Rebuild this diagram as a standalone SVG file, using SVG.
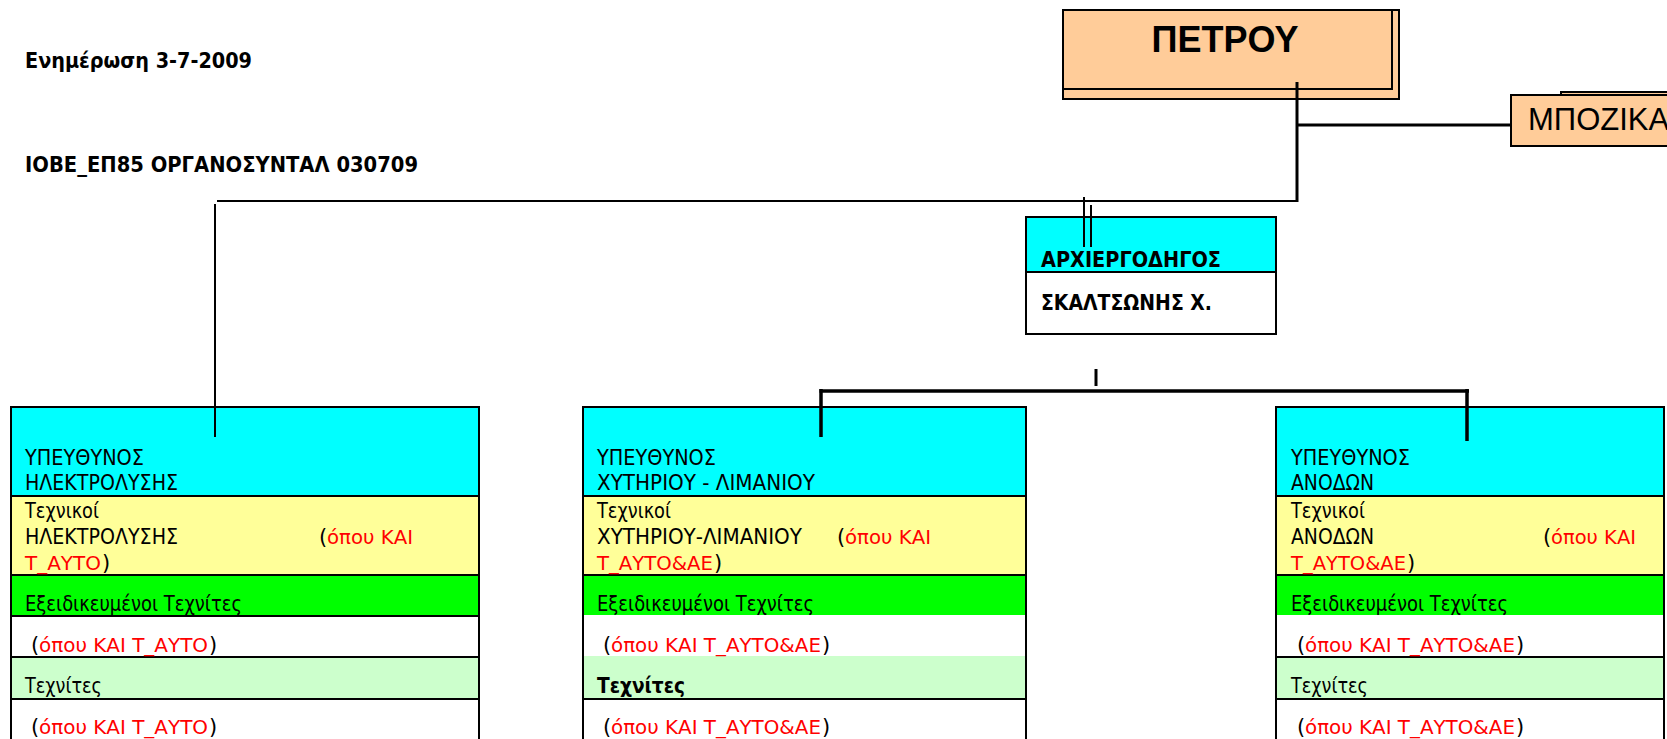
<svg xmlns="http://www.w3.org/2000/svg" width="1667" height="739" viewBox="0 0 1667 739">
<style>
.t{font-family:"DejaVu Sans","Liberation Sans",sans-serif;font-size:21px;fill:#000}
.b{font-weight:bold}
.r{fill:#FF0000;font-size:19.7px}
.a{font-family:"Liberation Sans",Arial,sans-serif;fill:#000}
.o{fill:none;stroke:#000;stroke-width:2}
.d{stroke:#000;stroke-width:2}
.cy{fill:#00FFFF}.ye{fill:#FFFF99}.gr{fill:#00FF00}.lg{fill:#CCFFCC}.wh{fill:#FFFFFF}
.pe{fill:#FFCC99;stroke:#000;stroke-width:2}
</style>
<rect width="1667" height="739" fill="#fff"/>

<g id="header">
<text class="t b" x="25" y="68" textLength="227" lengthAdjust="spacingAndGlyphs">Ενημέρωση 3-7-2009</text>
<text class="t b" x="25" y="172" textLength="393" lengthAdjust="spacingAndGlyphs">ΙΟΒΕ_ΕΠ85 ΟΡΓΑΝΟΣΥΝΤΑΛ 030709</text>
</g>

<g id="petrou">
<rect class="pe" x="1063" y="10" width="336" height="89"/>
<rect class="pe" x="1063" y="10" width="329" height="79"/>
<text class="a" x="1225" y="52" font-size="36" font-weight="bold" text-anchor="middle">ΠΕΤΡΟΥ</text>
</g>

<g id="mpozika">
<rect class="pe" x="1561" y="92" width="120" height="50"/>
<rect class="pe" x="1511" y="95" width="170" height="51"/>
<text class="a" x="1528" y="130" font-size="31">ΜΠΟΖΙΚΑ</text>
</g>

<g id="archiergodigos">
<rect class="cy" x="1026" y="217" width="250" height="55"/>
<rect class="wh" x="1026" y="272" width="250" height="62"/>
<line class="d" x1="1026" y1="272" x2="1276" y2="272"/>
<rect class="o" x="1026" y="217" width="250" height="117"/>
<text class="t b" x="1041" y="267" textLength="180" lengthAdjust="spacingAndGlyphs">ΑΡΧΙΕΡΓΟΔΗΓΟΣ</text>
<text class="t b" x="1041" y="310" textLength="171" lengthAdjust="spacingAndGlyphs">ΣΚΑΛΤΣΩΝΗΣ Χ.</text>
</g>

<g id="ilektrolysi">
<rect class="cy" x="11" y="407" width="468" height="89"/>
<rect class="ye" x="11" y="496" width="468" height="79"/>
<rect class="gr" x="11" y="575" width="468" height="41"/>
<rect class="wh" x="11" y="616" width="468" height="41"/>
<rect class="lg" x="11" y="657" width="468" height="42"/>
<rect class="wh" x="11" y="699" width="468" height="46"/>
<path class="d" d="M11 496H479M11 575H479M11 616H479M11 657H479M11 699H479"/>
<rect class="o" x="11" y="407" width="468" height="345"/>
<text class="t" x="25" y="465" textLength="119" lengthAdjust="spacingAndGlyphs">ΥΠΕΥΘΥΝΟΣ</text>
<text class="t" x="25" y="490" textLength="153" lengthAdjust="spacingAndGlyphs">ΗΛΕΚΤΡΟΛΥΣΗΣ</text>
<text class="t" x="25" y="518" textLength="74" lengthAdjust="spacingAndGlyphs">Τεχνικοί</text>
<text class="t" x="25" y="544" textLength="153" lengthAdjust="spacingAndGlyphs">ΗΛΕΚΤΡΟΛΥΣΗΣ</text>
<text class="t" x="319" y="544">(</text>
<text class="t r" x="327" y="544" textLength="86" lengthAdjust="spacingAndGlyphs">όπου ΚΑΙ</text>
<text class="t r" x="25" y="570" textLength="76" lengthAdjust="spacingAndGlyphs">Τ_ΑΥΤΟ</text>
<text class="t" x="102" y="570">)</text>
<text class="t" x="25" y="611" textLength="217" lengthAdjust="spacingAndGlyphs">Εξειδικευμένοι Τεχνίτες</text>
<text class="t" x="31" y="652">(</text>
<text class="t r" x="39" y="652" textLength="169" lengthAdjust="spacingAndGlyphs">όπου ΚΑΙ Τ_ΑΥΤΟ</text>
<text class="t" x="209" y="652">)</text>
<text class="t" x="25" y="693" textLength="77" lengthAdjust="spacingAndGlyphs">Τεχνίτες</text>
<text class="t" x="31" y="734">(</text>
<text class="t r" x="39" y="734" textLength="169" lengthAdjust="spacingAndGlyphs">όπου ΚΑΙ Τ_ΑΥΤΟ</text>
<text class="t" x="209" y="734">)</text>
</g>

<g id="xytirio">
<rect class="cy" x="583" y="407" width="443" height="89"/>
<rect class="ye" x="583" y="496" width="443" height="79"/>
<rect class="gr" x="583" y="575" width="443" height="40"/>
<rect class="wh" x="583" y="615" width="443" height="41"/>
<rect class="lg" x="583" y="656" width="443" height="43"/>
<rect class="wh" x="583" y="699" width="443" height="46"/>
<path class="d" d="M583 496H1026M583 575H1026M583 699H1026"/>
<rect class="o" x="583" y="407" width="443" height="345"/>
<text class="t" x="597" y="465" textLength="119" lengthAdjust="spacingAndGlyphs">ΥΠΕΥΘΥΝΟΣ</text>
<text class="t" x="597" y="490" textLength="218" lengthAdjust="spacingAndGlyphs">ΧΥΤΗΡΙΟΥ - ΛΙΜΑΝΙΟΥ</text>
<text class="t" x="597" y="518" textLength="74" lengthAdjust="spacingAndGlyphs">Τεχνικοί</text>
<text class="t" x="597" y="544" textLength="205" lengthAdjust="spacingAndGlyphs">ΧΥΤΗΡΙΟΥ-ΛΙΜΑΝΙΟΥ</text>
<text class="t" x="837" y="544">(</text>
<text class="t r" x="845" y="544" textLength="86" lengthAdjust="spacingAndGlyphs">όπου ΚΑΙ</text>
<text class="t r" x="597" y="570" textLength="116" lengthAdjust="spacingAndGlyphs">Τ_ΑΥΤΟ&amp;ΑΕ</text>
<text class="t" x="714" y="570">)</text>
<text class="t" x="597" y="611" textLength="217" lengthAdjust="spacingAndGlyphs">Εξειδικευμένοι Τεχνίτες</text>
<text class="t" x="603" y="652">(</text>
<text class="t r" x="611" y="652" textLength="210" lengthAdjust="spacingAndGlyphs">όπου ΚΑΙ Τ_ΑΥΤΟ&amp;ΑΕ</text>
<text class="t" x="822" y="652">)</text>
<text class="t b" x="597" y="693" textLength="88" lengthAdjust="spacingAndGlyphs">Τεχνίτες</text>
<text class="t" x="603" y="734">(</text>
<text class="t r" x="611" y="734" textLength="210" lengthAdjust="spacingAndGlyphs">όπου ΚΑΙ Τ_ΑΥΤΟ&amp;ΑΕ</text>
<text class="t" x="822" y="734">)</text>
</g>

<g id="anodoi">
<rect class="cy" x="1276" y="407" width="388" height="89"/>
<rect class="ye" x="1276" y="496" width="388" height="79"/>
<rect class="gr" x="1276" y="575" width="388" height="40"/>
<rect class="wh" x="1276" y="615" width="388" height="42"/>
<rect class="lg" x="1276" y="657" width="388" height="42"/>
<rect class="wh" x="1276" y="699" width="388" height="46"/>
<path class="d" d="M1276 496H1664M1276 575H1664M1276 657H1664M1276 699H1664"/>
<rect class="o" x="1276" y="407" width="388" height="345"/>
<text class="t" x="1291" y="465" textLength="119" lengthAdjust="spacingAndGlyphs">ΥΠΕΥΘΥΝΟΣ</text>
<text class="t" x="1291" y="490" textLength="83" lengthAdjust="spacingAndGlyphs">ΑΝΟΔΩΝ</text>
<text class="t" x="1291" y="518" textLength="74" lengthAdjust="spacingAndGlyphs">Τεχνικοί</text>
<text class="t" x="1291" y="544" textLength="83" lengthAdjust="spacingAndGlyphs">ΑΝΟΔΩΝ</text>
<text class="t" x="1543" y="544">(</text>
<text class="t r" x="1551" y="544" textLength="85" lengthAdjust="spacingAndGlyphs">όπου ΚΑΙ</text>
<text class="t r" x="1291" y="570" textLength="115" lengthAdjust="spacingAndGlyphs">Τ_ΑΥΤΟ&amp;ΑΕ</text>
<text class="t" x="1407" y="570">)</text>
<text class="t" x="1291" y="611" textLength="217" lengthAdjust="spacingAndGlyphs">Εξειδικευμένοι Τεχνίτες</text>
<text class="t" x="1297" y="652">(</text>
<text class="t r" x="1305" y="652" textLength="210" lengthAdjust="spacingAndGlyphs">όπου ΚΑΙ Τ_ΑΥΤΟ&amp;ΑΕ</text>
<text class="t" x="1516" y="652">)</text>
<text class="t" x="1291" y="693" textLength="77" lengthAdjust="spacingAndGlyphs">Τεχνίτες</text>
<text class="t" x="1297" y="734">(</text>
<text class="t r" x="1305" y="734" textLength="210" lengthAdjust="spacingAndGlyphs">όπου ΚΑΙ Τ_ΑΥΤΟ&amp;ΑΕ</text>
<text class="t" x="1516" y="734">)</text>
</g>

<g id="connectors" stroke="#000" fill="none">
<line x1="1297" y1="82" x2="1297" y2="202" stroke-width="3"/>
<line x1="217" y1="201" x2="1298" y2="201" stroke-width="2"/>
<line x1="1297" y1="125" x2="1511" y2="125" stroke-width="3"/>
<line x1="215" y1="204" x2="215" y2="437" stroke-width="2"/>
<line x1="1084" y1="197" x2="1084" y2="247" stroke-width="2"/>
<line x1="1091" y1="205" x2="1091" y2="247" stroke-width="2"/>
<line x1="1096" y1="369" x2="1096" y2="386" stroke-width="3"/>
<line x1="819.5" y1="391" x2="1469" y2="391" stroke-width="3.5"/>
<line x1="821" y1="389" x2="821" y2="437" stroke-width="3.5"/>
<line x1="1467" y1="389" x2="1467" y2="441" stroke-width="3.5"/>
</g>
</svg>
